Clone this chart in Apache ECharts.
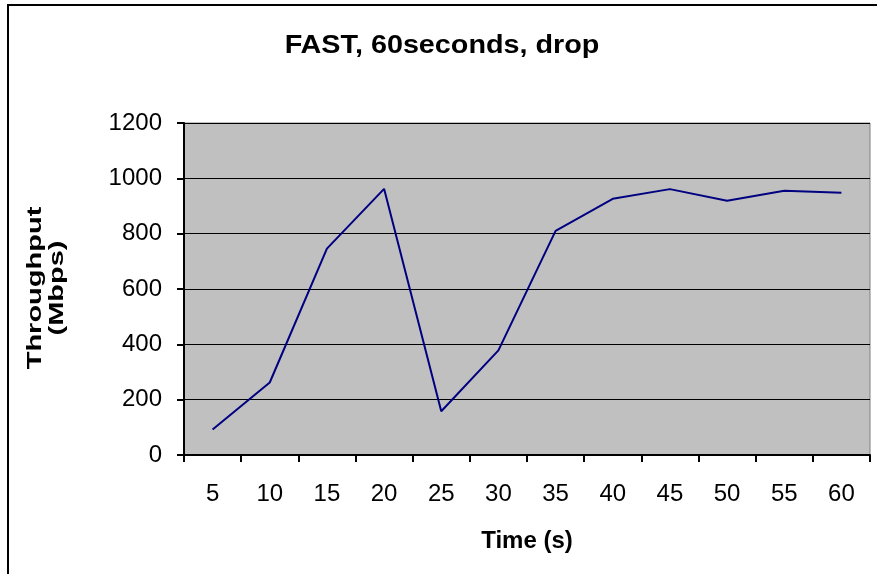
<!DOCTYPE html>
<html>
<head>
<meta charset="utf-8">
<script src="https://cdn.jsdelivr.net/npm/echarts@6/dist/echarts.min.js"></script>
<style>
  html, body { margin: 0; padding: 0; background: #fff; }
  #chart { width: 877px; height: 574px; }
</style>
</head>
<body>
<div id="chart"></div>
<script>
// Time buckets (seconds) and measured throughput per bucket
var timeLabels = ['5', '10', '15', '20', '25', '30', '35', '40', '45', '50', '55', '60'];
var throughput = [92, 262, 746, 962, 158, 378, 810, 926, 961, 919, 955, 948];
var yTicks = { min: 0, max: 1200, interval: 200 };

var font = 'Arial, "Liberation Sans", sans-serif';
var chart = echarts.init(document.getElementById('chart'), null, { renderer: 'canvas' });

chart.setOption({
  backgroundColor: '#ffffff',
  animation: false,
  graphic: [
    {
      // outer chart frame
      type: 'rect',
      shape: { x: 8, y: 5, width: 900, height: 600 },
      style: { fill: 'none', stroke: '#000', lineWidth: 2 },
      silent: true,
      z: 0
    },
    {
      // chart title (slightly widened lettering)
      type: 'text',
      x: 442, y: 46,
      scaleX: 1.15,
      style: {
        text: 'FAST, 60seconds, drop',
        font: 'bold 25px ' + font,
        fill: '#000',
        align: 'center',
        verticalAlign: 'middle'
      },
      silent: true
    },
    {
      // vertical axis title, reading bottom to top
      type: 'text',
      x: 46, y: 288,
      rotation: Math.PI / 2,
      scaleX: 1.45,
      style: {
        text: 'Throughput\n(Mbps)',
        font: 'bold 20px ' + font,
        lineHeight: 22,
        fill: '#000',
        align: 'center',
        verticalAlign: 'middle'
      },
      silent: true
    }
  ],
  grid: {
    left: 184, top: 123, right: 7, bottom: 119,
    show: true,
    backgroundColor: '#c0c0c0',
    borderColor: '#808080',
    borderWidth: 1
  },
  xAxis: {
    type: 'category',
    data: timeLabels,
    boundaryGap: true,
    name: 'Time (s)',
    nameLocation: 'middle',
    nameGap: 74,
    nameTextStyle: { fontFamily: font, fontSize: 24, fontWeight: 'bold', color: '#000' },
    axisLine: { lineStyle: { color: '#000', width: 2 } },
    axisTick: { show: true, alignWithLabel: false, length: 7, lineStyle: { color: '#000', width: 2 } },
    axisLabel: { fontFamily: font, fontSize: 24, color: '#000', margin: 27 },
    splitLine: { show: false }
  },
  yAxis: {
    type: 'value',
    min: yTicks.min,
    max: yTicks.max,
    interval: yTicks.interval,
    axisLine: { show: true, lineStyle: { color: '#000', width: 2 } },
    axisTick: { show: true, length: 7, lineStyle: { color: '#000', width: 2 } },
    axisLabel: {
      fontFamily: font, fontSize: 24, color: '#000', margin: 22,
      formatter: function (v) { return String(v); }
    },
    splitLine: { show: true, lineStyle: { color: '#000', width: 1 } }
  },
  series: [{
    type: 'line',
    data: throughput,
    symbol: 'none',
    lineStyle: { color: '#000080', width: 2 },
    itemStyle: { color: '#000080' }
  }]
});
</script>
</body>
</html>
